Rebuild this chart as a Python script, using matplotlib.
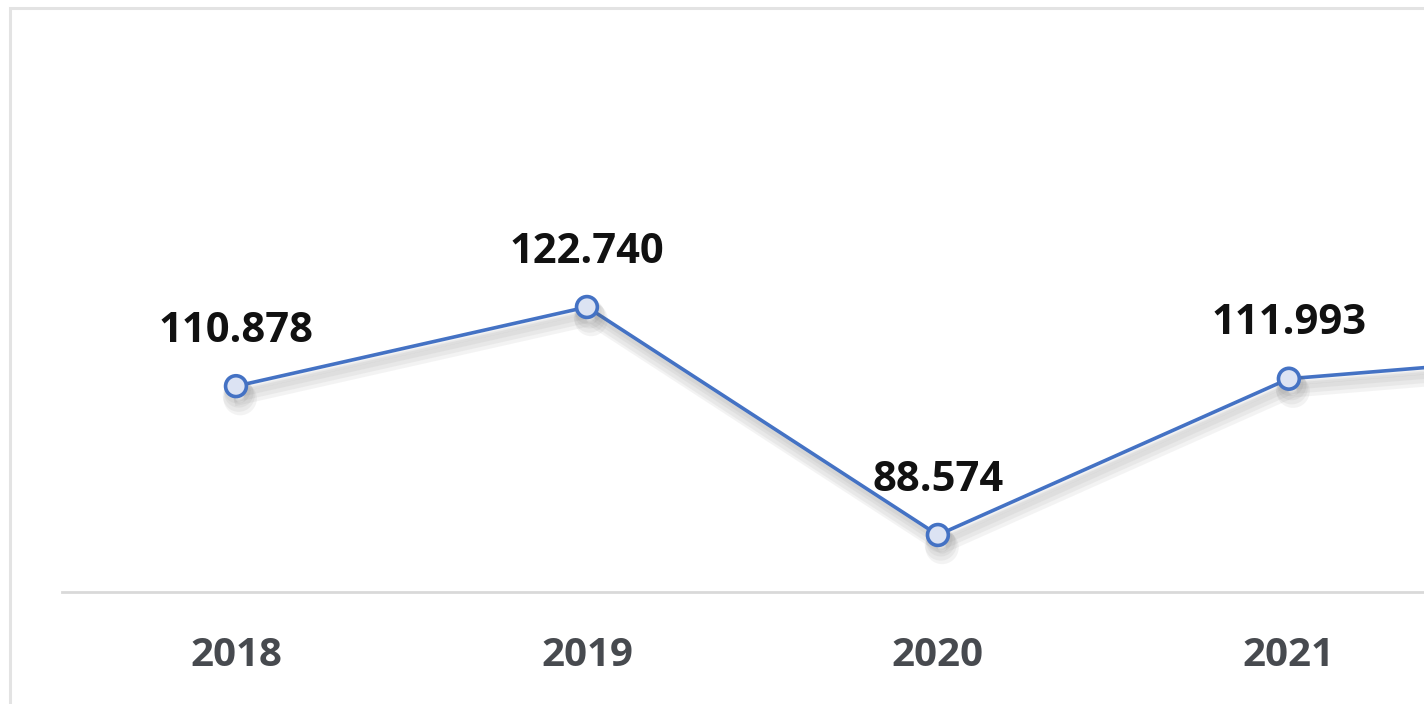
import matplotlib
matplotlib.use("Agg")
import matplotlib.pyplot as plt
import matplotlib.patheffects as pe
from matplotlib.patches import Rectangle

# dados (o último ponto, 2022, fica fora do recorte)
years = ["2018", "2019", "2020", "2021", "2022"]
values = [110.878, 122.740, 88.574, 111.993, 116.3]
labels = ["110.878", "122.740", "88.574", "111.993", ""]

LINE = "#4472c4"
FILL = "#dce3f3"

fig = plt.figure(figsize=(14.24, 7.04), dpi=100)
fig.patch.set_facecolor("white")

# moldura do cartão
fig.patches.append(Rectangle((10 / 1424, -0.1), 1.2, 1.1 - 8 / 704,
                             transform=fig.transFigure, fill=False,
                             edgecolor="#e3e3e3", linewidth=2.2, zorder=0))

ax = fig.add_axes([62 / 1424, 112 / 704, 1362 / 1424, 582 / 704])
ax.set_facecolor("none")
x = list(range(len(years)))

# sombra suave: várias camadas deslocadas com pouca opacidade
shadow = [pe.SimpleLineShadow(offset=(dx, dy), shadow_color="#606060", alpha=0.07, linewidth=lw)
          for dx, dy, lw in [(1, -3, 4), (2, -5, 6), (2, -7, 8), (3, -9, 9)]]

ax.plot(x, values, color=LINE, linewidth=2.6, marker="o", markersize=15,
        markerfacecolor=FILL, markeredgecolor=LINE, markeredgewidth=2.6,
        clip_on=False, zorder=3, path_effects=shadow + [pe.Normal()])

for xi, v, lab in zip(x, values, labels):
    if lab:
        ax.annotate(lab, (xi, v), xytext=(0, 39.5), textcoords="offset points",
                    ha="center", va="center", fontsize=30, fontweight="bold",
                    family="Open Sans", color="#111111")

ax.set_xlim(-0.4957, 3.385)
ax.set_ylim(80.03, 167.25)
ax.set_xticks(x[:4])
ax.set_xticklabels(years[:4], fontsize=29, fontweight="bold", family="Open Sans",
                   color="#474a4f")
ax.tick_params(axis="x", length=0, pad=32)
ax.set_yticks([])
for s in ("top", "right", "left"):
    ax.spines[s].set_visible(False)
ax.spines["bottom"].set_color("#d9d9d9")
ax.spines["bottom"].set_linewidth(2)

fig.savefig("out.png", dpi=100)
